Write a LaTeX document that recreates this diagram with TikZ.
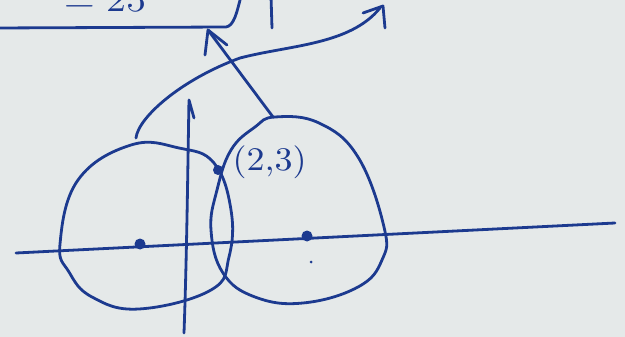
\documentclass[tikz,border=0pt]{standalone}
\usetikzlibrary{calc}
\definecolor{ink}{HTML}{1C3A8F}
\definecolor{board}{HTML}{E5E9E9}
\begin{document}
\begin{tikzpicture}[x=1pt,y=-1pt,
  pen/.style={draw=ink,line width=2.8pt,line cap=round,line join=round},
  dotmark/.style={circle,fill=ink,inner sep=0pt,minimum size=11pt},
  smalldot/.style={circle,fill=ink,inner sep=0pt,minimum size=3pt}]
\useasboundingbox (0,0) rectangle (625,337);
\fill[board] (0,0) rectangle (625,337);
\begin{scope}
\clip (0,0) rectangle (625,337);
% partial box and text at the top
\draw[pen] (-5,28) -- (226,27) .. controls (234,26) and (237,12) .. (241,-4);
\node[text=ink,anchor=base,inner sep=0pt,xscale=4,yscale=3.4] (eq) at (105,12) {$=25$};
\draw[pen] (271,-4) -- (272,28);
% axes
\coordinate (xl) at (16,253);
\coordinate (xr) at (615,223);
\draw[pen] (xl) -- (xr);
\coordinate (yb) at (184,333);
\coordinate (yt) at (189,100);
\coordinate (yh) at (194,118);
\draw[pen] (yb) .. controls (187,250) and (188,150) .. (yt) -- (yh);
% left circle
\draw[pen] plot[smooth cycle,tension=0.7] coordinates {
 (60,244) (78,180) (131,145) (179,148) (214,163) (231,210) (229,257) (211,290) (139,309) (92,297) (69,272)};
% right circle
\draw[pen] plot[smooth cycle,tension=0.7] coordinates {
 (275,117) (319,123) (358,157) (384,227) (382,260) (358,287) (303,303) (255,297) (223,273) (211,230) (217,190) (231,150) (255,127)};
% dots
\node[dotmark] (c1) at (140,244) {};
\node[dotmark] (c2) at (307,236) {};
\node[dotmark,minimum size=10pt] (p) at (218,170) {};
\node[smalldot] (sd) at (311,262) {};
\node[text=ink,anchor=west,inner sep=0pt,xscale=3.6,yscale=3.3] (lab) at (232,162) {(2,3)};
% arrow from right circle to box
\coordinate (a1) at (273,117);
\coordinate (a2) at (208,30);
\draw[pen] (a1) -- (a2);
\draw[pen] (205,55) -- (a2) -- (227,45);
% curved arrow
\coordinate (b1) at (136,138);
\coordinate (b2) at (380,8);
\draw[pen] (b1) .. controls (138,118) and (180,80) .. (240,58)
  .. controls (290,45) and (350,45) .. (b2);
\draw[pen] (363,13) -- (383,6) -- (385,28);
\end{scope}
\end{tikzpicture}
\end{document}
